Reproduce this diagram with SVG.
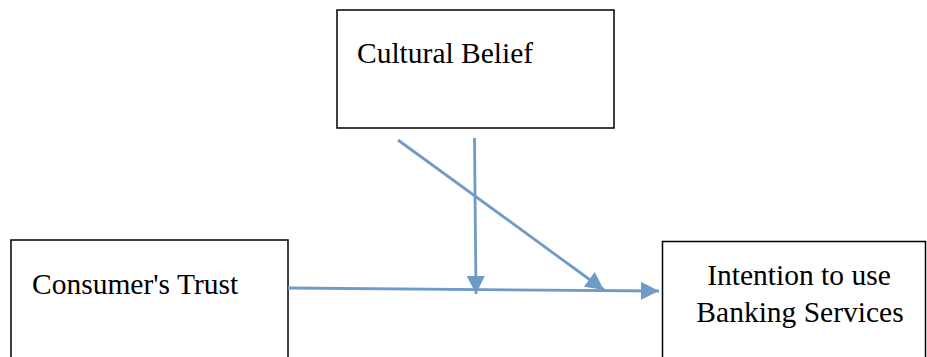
<svg xmlns="http://www.w3.org/2000/svg" width="927" height="357" viewBox="0 0 927 357">
<defs>
<style>
.box{fill:#fff;stroke:#000;stroke-width:1.5}
.lbl{font-family:"Liberation Serif","Times New Roman",serif;font-size:29.5px;fill:#000}
.edge{stroke:#6f9bc6;stroke-width:2.8;fill:none}
</style>
<marker id="ah" viewBox="0 0 10 10" refX="10" refY="5" markerWidth="6.5" markerHeight="6.5" markerUnits="strokeWidth" orient="auto">
<path d="M0,0 L10,5 L0,10 Z" fill="#6f9bc6"/>
</marker>
</defs>
<rect width="927" height="357" fill="#fff"/>
<g id="cultural">
<rect class="box" x="337" y="10" width="277" height="118"/>
<text class="lbl" x="357" y="63">Cultural Belief</text>
</g>
<g id="trust">
<rect class="box" x="11" y="240" width="277" height="130"/>
<text class="lbl" x="32" y="294">Consumer's Trust</text>
</g>
<g id="intention">
<rect class="box" x="662.5" y="241.5" width="263" height="130"/>
<text class="lbl" x="799" y="285" text-anchor="middle">Intention to use</text>
<text class="lbl" x="800" y="322" text-anchor="middle">Banking Services</text>
</g>
<g id="connectors">
<line class="edge" x1="288" y1="288" x2="659" y2="291" marker-end="url(#ah)"/>
<line class="edge" x1="474.5" y1="138" x2="476" y2="294" marker-end="url(#ah)"/>
<line class="edge" x1="398" y1="140" x2="604" y2="290" marker-end="url(#ah)"/>
</g>
</svg>
